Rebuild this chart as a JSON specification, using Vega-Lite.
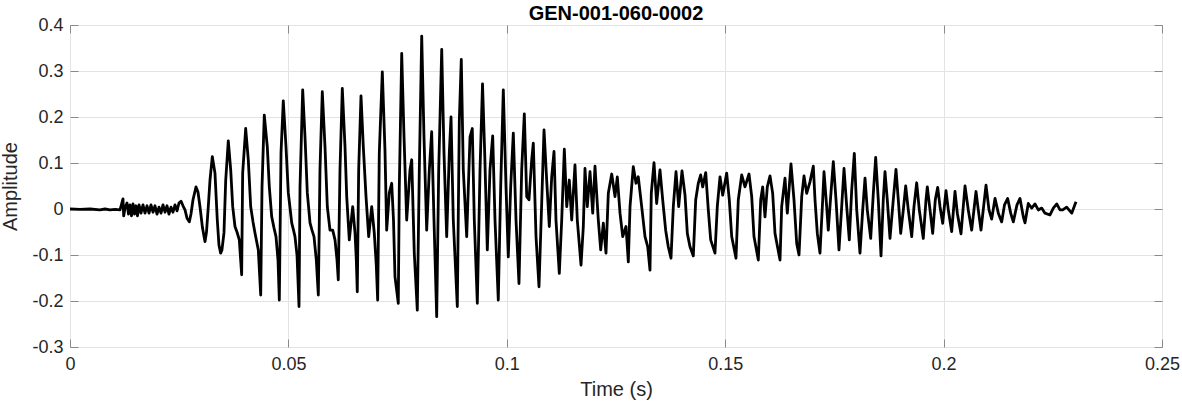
{
"$schema": "https://vega.github.io/schema/vega-lite/v6.json",
"width": 1092, "height": 322,
"autosize": {"type": "none"},
"padding": {"left": 70, "top": 25, "right": 20, "bottom": 57},
"background": "white",
"title": {"text": "GEN-001-060-0002", "font": "Liberation Sans", "fontSize": 20, "fontWeight": "bold", "color": "#000000", "baseline": "alphabetic", "offset": 7, "dy": 31, "anchor": "middle", "frame": "group"},
"config": {
  "view": {"stroke": "#8a8a8a", "strokeWidth": 1},
  "axis": {"labelFont": "Liberation Sans", "labelFontSize": 18, "labelColor": "#262626", "titleFont": "Liberation Sans", "titleFontSize": 20, "titleFontWeight": "normal", "titleColor": "#262626", "domain": false, "tickColor": "#8a8a8a", "tickSize": -8, "gridColor": "#e3e3e3", "gridWidth": 1}
},
"data": {"values": [
{"t":0,"a":0},{"t":0.00229,"a":-0.001},{"t":0.00458,"a":0},{"t":0.00687,"a":-0.002},{"t":0.00801,"a":0},{"t":0.00916,"a":-0.002},{"t":0.0103,"a":-0.001},{"t":0.01145,"a":-0.002},
{"t":0.01213,"a":0.022},{"t":0.01229,"a":-0.015},{"t":0.01259,"a":0.002},{"t":0.01305,"a":0.013},{"t":0.01339,"a":-0.011},{"t":0.01374,"a":0.009},{"t":0.01408,"a":-0.015},{"t":0.01442,"a":0.011},{"t":0.01477,"a":-0.011},{"t":0.01511,"a":0.007},{"t":0.01545,"a":-0.015},{"t":0.0158,"a":0.009},{"t":0.01625,"a":-0.009},{"t":0.01671,"a":0.009},{"t":0.01717,"a":-0.009},{"t":0.01763,"a":0.007},{"t":0.01809,"a":-0.009},{"t":0.01854,"a":0.009},{"t":0.019,"a":-0.007},{"t":0.01946,"a":0.007},{"t":0.01992,"a":-0.011},{"t":0.02038,"a":0.004},{"t":0.02083,"a":-0.009},{"t":0.02129,"a":0.009},{"t":0.02175,"a":-0.007},{"t":0.02221,"a":0.007},{"t":0.02266,"a":-0.011},{"t":0.02312,"a":0.004},{"t":0.02358,"a":-0.007},{"t":0.02404,"a":0.009},{"t":0.0245,"a":-0.004},{"t":0.02495,"a":0.013},{"t":0.02541,"a":0.017},{"t":0.02587,"a":0.007},{"t":0.02633,"a":-0.002},{"t":0.02679,"a":-0.02},{"t":0.02731,"a":-0.028},{"t":0.0277,"a":-0.011},{"t":0.02816,"a":0.02},{"t":0.02885,"a":0.048},{"t":0.0293,"a":0.037},{"t":0.02976,"a":0.005},{"t":0.03033,"a":-0.041},{"t":0.03091,"a":-0.071},{"t":0.03125,"a":-0.05},{"t":0.03166,"a":0.005},{"t":0.03205,"a":0.063},{"t":0.03258,"a":0.114},{"t":0.03319,"a":0.078},{"t":0.03372,"a":-0.024},{"t":0.0341,"a":-0.078},{"t":0.03449,"a":-0.096},{"t":0.03479,"a":-0.089},{"t":0.03525,"a":-0.052},{"t":0.03565,"a":0.063},{"t":0.03624,"a":0.148},{"t":0.03679,"a":0.085},{"t":0.03725,"a":0.005},{"t":0.03777,"a":-0.038},{"t":0.03823,"a":-0.05},{"t":0.03876,"a":-0.067},{"t":0.0393,"a":-0.143},{"t":0.03953,"a":0.078},{"t":0.04022,"a":0.175},{"t":0.04082,"a":0.107},{"t":0.04137,"a":0.005},{"t":0.0419,"a":-0.028},{"t":0.04235,"a":-0.052},{"t":0.04311,"a":-0.089},{"t":0.04366,"a":-0.187},{"t":0.04396,"a":0.048},{"t":0.04448,"a":0.204},{"t":0.04517,"a":0.135},{"t":0.04563,"a":0.048},{"t":0.04618,"a":-0.017},{"t":0.0467,"a":-0.041},{"t":0.04716,"a":-0.06},{"t":0.04762,"a":-0.111},{"t":0.04792,"a":-0.198},{"t":0.04831,"a":0.122},{"t":0.04883,"a":0.235},{"t":0.04945,"a":0.135},{"t":0.04998,"a":0.035},{"t":0.05076,"a":-0.03},{"t":0.05117,"a":-0.046},{"t":0.05151,"a":-0.06},{"t":0.05197,"a":-0.1},{"t":0.05243,"a":-0.212},{"t":0.05266,"a":0.048},{"t":0.05327,"a":0.259},{"t":0.0538,"a":0.157},{"t":0.05433,"a":0.035},{"t":0.05495,"a":-0.03},{"t":0.0554,"a":-0.046},{"t":0.05586,"a":-0.06},{"t":0.05639,"a":-0.111},{"t":0.05685,"a":-0.187},{"t":0.05723,"a":0.085},{"t":0.05776,"a":0.255},{"t":0.05838,"a":0.135},{"t":0.05891,"a":0.005},{"t":0.05952,"a":-0.046},{"t":0.06014,"a":-0.046},{"t":0.06067,"a":-0.067},{"t":0.06113,"a":-0.111},{"t":0.06142,"a":-0.154},{"t":0.06181,"a":0.085},{"t":0.06234,"a":0.262},{"t":0.06296,"a":0.135},{"t":0.06335,"a":0.027},{"t":0.06394,"a":-0.067},{"t":0.06472,"a":0.005},{"t":0.06525,"a":-0.052},{"t":0.06555,"a":-0.111},{"t":0.06577,"a":-0.18},{"t":0.06609,"a":0.085},{"t":0.06662,"a":0.246},{"t":0.06715,"a":0.135},{"t":0.06777,"a":0.027},{"t":0.06838,"a":-0.06},{"t":0.06907,"a":0.005},{"t":0.06966,"a":-0.052},{"t":0.07012,"a":-0.122},{"t":0.07044,"a":-0.198},{"t":0.07081,"a":0.122},{"t":0.0715,"a":0.298},{"t":0.07211,"a":0.128},{"t":0.0725,"a":-0.046},{"t":0.0731,"a":0.035},{"t":0.07365,"a":0.056},{"t":0.07406,"a":-0.024},{"t":0.0744,"a":-0.147},{"t":0.07516,"a":-0.205},{"t":0.07539,"a":0.048},{"t":0.07594,"a":0.338},{"t":0.07647,"a":0.157},{"t":0.07708,"a":-0.024},{"t":0.07784,"a":0.085},{"t":0.07823,"a":0.107},{"t":0.07882,"a":-0.096},{"t":0.07951,"a":-0.22},{"t":0.07997,"a":0.085},{"t":0.08052,"a":0.376},{"t":0.08104,"a":0.157},{"t":0.08166,"a":-0.046},{"t":0.08226,"a":0.085},{"t":0.0828,"a":0.168},{"t":0.08333,"a":-0.024},{"t":0.08395,"a":-0.234},{"t":0.08441,"a":0.085},{"t":0.0851,"a":0.347},{"t":0.08562,"a":0.122},{"t":0.08624,"a":-0.06},{"t":0.08684,"a":0.122},{"t":0.08723,"a":0.2},{"t":0.08775,"a":-0.024},{"t":0.08867,"a":-0.212},{"t":0.08913,"a":0.193},{"t":0.08958,"a":0.325},{"t":0.09004,"a":0.085},{"t":0.09082,"a":-0.06},{"t":0.09158,"a":0.157},{"t":0.0921,"a":0.175},{"t":0.09256,"a":-0.024},{"t":0.09325,"a":-0.205},{"t":0.09387,"a":0.085},{"t":0.09444,"a":0.272},{"t":0.09494,"a":0.122},{"t":0.09554,"a":-0.089},{"t":0.09615,"a":0.085},{"t":0.09677,"a":0.159},{"t":0.0973,"a":-0.024},{"t":0.09805,"a":-0.198},{"t":0.0986,"a":0.048},{"t":0.0992,"a":0.259},{"t":0.09982,"a":0.048},{"t":0.10034,"a":-0.104},{"t":0.10089,"a":0.048},{"t":0.10149,"a":0.165},{"t":0.10211,"a":-0.024},{"t":0.10279,"a":-0.162},{"t":0.10341,"a":0.085},{"t":0.10401,"a":0.207},{"t":0.10456,"a":0.027},{"t":0.10508,"a":0.02},{"t":0.1057,"a":0.107},{"t":0.10607,"a":0.143},{"t":0.10669,"a":-0.06},{"t":0.10737,"a":-0.169},{"t":0.10799,"a":0.013},{"t":0.10852,"a":0.172},{"t":0.10913,"a":0.063},{"t":0.10973,"a":-0.038},{"t":0.11028,"a":0.07},{"t":0.11081,"a":0.125},{"t":0.11126,"a":-0.024},{"t":0.11202,"a":-0.14},{"t":0.11257,"a":-0.024},{"t":0.11317,"a":0.13},{"t":0.11372,"a":0.005},{"t":0.11431,"a":0.063},{"t":0.11486,"a":-0.024},{"t":0.11561,"a":0.096},{"t":0.11614,"a":-0.024},{"t":0.11699,"a":-0.122},{"t":0.11752,"a":-0.038},{"t":0.1179,"a":0.088},{"t":0.11843,"a":0.005},{"t":0.11905,"a":0.081},{"t":0.11967,"a":-0.009},{"t":0.12019,"a":0.093},{"t":0.12095,"a":-0.024},{"t":0.1215,"a":-0.089},{"t":0.1221,"a":-0.031},{"t":0.12271,"a":-0.096},{"t":0.12324,"a":0.034},{"t":0.12402,"a":0.076},{"t":0.12477,"a":0.027},{"t":0.1253,"a":0.07},{"t":0.12592,"a":-0.009},{"t":0.12654,"a":-0.06},{"t":0.12729,"a":-0.038},{"t":0.12782,"a":-0.115},{"t":0.12821,"a":0.005},{"t":0.12896,"a":0.092},{"t":0.12958,"a":0.056},{"t":0.1301,"a":0.07},{"t":0.13088,"a":0.005},{"t":0.13164,"a":-0.06},{"t":0.13226,"a":-0.082},{"t":0.13278,"a":-0.133},{"t":0.13308,"a":0.034},{"t":0.1337,"a":0.101},{"t":0.13431,"a":0.012},{"t":0.13507,"a":0.085},{"t":0.13569,"a":0.02},{"t":0.13637,"a":-0.046},{"t":0.13697,"a":-0.082},{"t":0.13759,"a":-0.107},{"t":0.13812,"a":0.005},{"t":0.13874,"a":0.081},{"t":0.13935,"a":0.005},{"t":0.14011,"a":0.083},{"t":0.1408,"a":0.03},{"t":0.14133,"a":-0.053},{"t":0.14194,"a":-0.082},{"t":0.1427,"a":-0.102},{"t":0.14325,"a":0.02},{"t":0.14384,"a":0.056},{"t":0.14439,"a":0.074},{"t":0.14485,"a":0.048},{"t":0.14554,"a":0.079},{"t":0.14613,"a":-0.002},{"t":0.14668,"a":-0.067},{"t":0.14766,"a":-0.096},{"t":0.14819,"a":0.005},{"t":0.14881,"a":0.07},{"t":0.14943,"a":0.03},{"t":0.15034,"a":0.078},{"t":0.15094,"a":0.02},{"t":0.15149,"a":-0.06},{"t":0.15247,"a":-0.107},{"t":0.153,"a":0.02},{"t":0.15378,"a":0.074},{"t":0.15453,"a":0.048},{"t":0.15545,"a":0.076},{"t":0.15607,"a":0.027},{"t":0.15659,"a":-0.06},{"t":0.15758,"a":-0.111},{"t":0.15813,"a":0.02},{"t":0.15858,"a":0.048},{"t":0.15911,"a":-0.017},{"t":0.15964,"a":0.048},{"t":0.16026,"a":0.072},{"t":0.16087,"a":0.034},{"t":0.1614,"a":-0.053},{"t":0.16255,"a":-0.111},{"t":0.16293,"a":0.005},{"t":0.16369,"a":0.067},{"t":0.16422,"a":-0.009},{"t":0.16506,"a":0.098},{"t":0.16575,"a":0.02},{"t":0.16637,"a":-0.075},{"t":0.1669,"a":-0.1},{"t":0.16752,"a":0.027},{"t":0.16804,"a":0.072},{"t":0.16866,"a":0.034},{"t":0.16941,"a":0.059},{"t":0.17017,"a":0.093},{"t":0.17056,"a":0.02},{"t":0.17109,"a":-0.053},{"t":0.1717,"a":-0.096},{"t":0.17232,"a":0.02},{"t":0.17262,"a":0.081},{"t":0.17323,"a":0.005},{"t":0.1736,"a":-0.046},{"t":0.17415,"a":0.027},{"t":0.17475,"a":0.103},{"t":0.17537,"a":0.02},{"t":0.17605,"a":-0.089},{"t":0.17667,"a":0.005},{"t":0.1772,"a":0.088},{"t":0.17782,"a":0.005},{"t":0.17841,"a":-0.067},{"t":0.17896,"a":0.041},{"t":0.17956,"a":0.121},{"t":0.18011,"a":-0.002},{"t":0.18086,"a":-0.096},{"t":0.18148,"a":-0.002},{"t":0.18201,"a":0.067},{"t":0.18253,"a":-0.002},{"t":0.18331,"a":-0.064},{"t":0.18391,"a":0.034},{"t":0.18445,"a":0.112},{"t":0.18505,"a":0.02},{"t":0.18567,"a":-0.102},{"t":0.18619,"a":0.02},{"t":0.18658,"a":0.081},{"t":0.18711,"a":0.02},{"t":0.18773,"a":-0.064},{"t":0.18848,"a":0.02},{"t":0.1891,"a":0.086},{"t":0.18963,"a":0.02},{"t":0.19018,"a":-0.053},{"t":0.19078,"a":-0.002},{"t":0.19132,"a":0.05},{"t":0.19192,"a":-0.002},{"t":0.1927,"a":-0.06},{"t":0.19322,"a":0.005},{"t":0.19384,"a":0.057},{"t":0.19444,"a":-0.002},{"t":0.19535,"a":-0.064},{"t":0.19597,"a":0.02},{"t":0.19627,"a":0.048},{"t":0.19689,"a":-0.002},{"t":0.1975,"a":-0.053},{"t":0.1981,"a":0.02},{"t":0.19865,"a":0.047},{"t":0.19918,"a":0.005},{"t":0.19979,"a":-0.031},{"t":0.20055,"a":0.04},{"t":0.20108,"a":-0.002},{"t":0.20185,"a":-0.049},{"t":0.20261,"a":0.038},{"t":0.20314,"a":-0.009},{"t":0.20398,"a":-0.054},{"t":0.2049,"a":0.05},{"t":0.20565,"a":-0.002},{"t":0.20643,"a":-0.046},{"t":0.20742,"a":0.038},{"t":0.20794,"a":-0.002},{"t":0.20856,"a":-0.046},{"t":0.20971,"a":0.052},{"t":0.21039,"a":-0.002},{"t":0.21101,"a":-0.022},{"t":0.21177,"a":0.023},{"t":0.21253,"a":-0.009},{"t":0.2133,"a":-0.028},{"t":0.21394,"a":0.009},{"t":0.21467,"a":0.023},{"t":0.21536,"a":-0.009},{"t":0.21596,"a":-0.028},{"t":0.2168,"a":0.009},{"t":0.21749,"a":0.023},{"t":0.21825,"a":-0.017},{"t":0.21864,"a":-0.03},{"t":0.21939,"a":0.012},{"t":0.22017,"a":0.002},{"t":0.22093,"a":0.011},{"t":0.22168,"a":-0.002},{"t":0.22246,"a":0.002},{"t":0.22321,"a":-0.009},{"t":0.22436,"a":-0.013},{"t":0.22512,"a":0.002},{"t":0.2259,"a":0.011},{"t":0.22665,"a":-0.002},{"t":0.22727,"a":-0.002},{"t":0.22818,"a":0.004},{"t":0.22933,"a":-0.009},{"t":0.23031,"a":0.016}
]},
"resolve": {"axis": {"x": "independent", "y": "independent"}},
"layer": [
  {
    "mark": {"type": "line", "color": "#000000", "strokeWidth": 2.8, "strokeJoin": "round"},
    "encoding": {
      "x": {"field": "t", "type": "quantitative", "scale": {"domain": [0, 0.25], "nice": false, "zero": false},
            "axis": {"orient": "bottom", "title": "Time (s)", "values": [0, 0.05, 0.1, 0.15, 0.2, 0.25], "labelExpr": "format(datum.value, '~g')", "grid": true, "labelPadding": 16, "titlePadding": 6, "labelFlush": false}},
      "y": {"field": "a", "type": "quantitative", "scale": {"domain": [-0.3, 0.4], "nice": false, "zero": false},
            "axis": {"orient": "left", "title": "Amplitude", "values": [-0.3, -0.2, -0.1, 0, 0.1, 0.2, 0.3, 0.4], "labelExpr": "datum.value < 0 ? '-' + format(-datum.value, '~g') : format(datum.value, '~g')", "grid": true, "labelPadding": 15, "titlePadding": 11, "labelFlush": false}}
    }
  },
  {
    "mark": {"type": "line", "strokeOpacity": 0},
    "encoding": {
      "x": {"field": "t", "type": "quantitative", "scale": {"domain": [0, 0.25], "nice": false, "zero": false},
            "axis": {"orient": "top", "title": null, "labels": false, "grid": false, "values": [0, 0.05, 0.1, 0.15, 0.2, 0.25]}},
      "y": {"field": "a", "type": "quantitative", "scale": {"domain": [-0.3, 0.4], "nice": false, "zero": false},
            "axis": {"orient": "right", "title": null, "labels": false, "grid": false, "values": [-0.3, -0.2, -0.1, 0, 0.1, 0.2, 0.3, 0.4]}}
    }
  }
]
}
